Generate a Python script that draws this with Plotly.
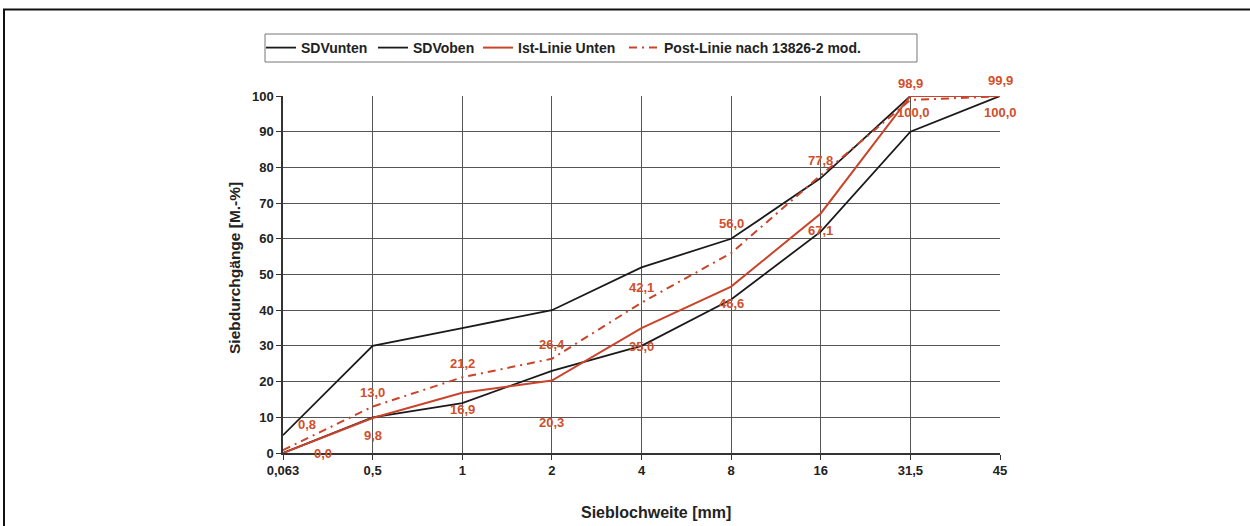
import plotly.graph_objects as go

# ---- data ----
sieves = ["0,063", "0,5", "1", "2", "4", "8", "16", "31,5", "45"]
sdv_unten = [0, 10, 14, 23, 30, 43, 62, 90, 100]
sdv_oben = [5, 30, 35, 40, 52, 60, 77, 100, 100]
ist_linie = [0.0, 9.8, 16.9, 20.3, 35.0, 46.6, 67.1, 100.0, 100.0]
post_linie = [0.8, 13.0, 21.2, 26.4, 42.1, 56.0, 77.8, 98.9, 99.9]
y_ticks = [0, 10, 20, 30, 40, 50, 60, 70, 80, 90, 100]
series_names = ["SDVunten", "SDVoben", "Ist-Linie Unten", "Post-Linie nach 13826-2 mod."]

# ---- label placement (pixels) ----
ist_dx = [40, 0, 0, 0, 0, 0, 0, 3, 0]
ist_dy = [0, -17, -17, -42, -18, -17, -17, -16, -16]
post_dx = [24, 0, 0, 0, 0, 0, 0, 0, 0]
post_dy = [26, 14, 14, 14, 15, 30, 15, 16, 16]
legend_px = [261, 373, 478, 624]

RED = "#C9442A"
TXT_RED = "#CF4F2C"
BLACK = "#1a1a1a"
FONT = "Liberation Sans, Arial, sans-serif"

L, R, T, B = 283, 250, 96, 73
PW = 1250 - L - R
PH = 526 - T - B


def px_x(p):
    return (p - L) / PW


def px_y(p):
    return (526 - B - p) / PH


def fmt(v):
    return f"{v:.1f}".replace(".", ",")


fig = go.Figure()
styles = [
    dict(color=BLACK, width=1.8),
    dict(color=BLACK, width=1.8),
    dict(color=RED, width=2),
    dict(color=RED, width=2, dash="8px,5px,2px,5px"),
]
values = [sdv_unten, sdv_oben, ist_linie, post_linie]
for k in range(4):
    fig.add_trace(go.Scatter(x=sieves, y=values[k], mode="lines", name=series_names[k],
                             line=styles[k], legend="legend" if k == 0 else f"legend{k + 1}"))

annotations = []
for i in range(len(sieves)):
    annotations.append(dict(x=i, y=ist_linie[i], text=fmt(ist_linie[i]), showarrow=False,
                            xshift=ist_dx[i], yshift=ist_dy[i],
                            font=dict(family=FONT, size=13, color=TXT_RED, weight="bold")))
    annotations.append(dict(x=i, y=post_linie[i], text=fmt(post_linie[i]), showarrow=False,
                            xshift=post_dx[i], yshift=post_dy[i],
                            font=dict(family=FONT, size=13, color=TXT_RED, weight="bold")))

# axis titles
annotations.append(dict(xref="paper", yref="paper", x=px_x(656), y=px_y(512),
                        text="Sieblochweite [mm]", showarrow=False, xanchor="center", yanchor="middle",
                        font=dict(family=FONT, size=16, color="#222", weight="bold")))
annotations.append(dict(xref="paper", yref="paper", x=px_x(234), y=px_y(268),
                        text="Siebdurchgänge [M.-%]", showarrow=False, textangle=-90,
                        xanchor="center", yanchor="middle",
                        font=dict(family=FONT, size=15.5, color="#222", weight="bold")))

shapes = [
    # outer frame: top and left lines
    dict(type="line", xref="paper", yref="paper", x0=px_x(3), x1=px_x(1250),
         y0=px_y(9.5), y1=px_y(9.5), line=dict(color="#111", width=2)),
    dict(type="line", xref="paper", yref="paper", x0=px_x(4), x1=px_x(4),
         y0=px_y(9.5), y1=px_y(530), line=dict(color="#111", width=2)),
    # legend box
    dict(type="rect", xref="paper", yref="paper", x0=px_x(265), x1=px_x(917),
         y0=px_y(62), y1=px_y(34), line=dict(color="#777", width=1), fillcolor="rgba(0,0,0,0)"),
]

legend_common = dict(orientation="h", xanchor="left", yanchor="middle", borderwidth=0,
                     bgcolor="rgba(0,0,0,0)", itemwidth=30,
                     font=dict(family=FONT, size=14, color="#222", weight="bold"))
legends = {}
for k in range(4):
    key = "legend" if k == 0 else f"legend{k + 1}"
    legends[key] = dict(legend_common, x=px_x(legend_px[k]), y=px_y(48))

fig.update_layout(
    width=1250, height=526,
    margin=dict(l=L, r=R, t=T, b=B),
    paper_bgcolor="white", plot_bgcolor="white",
    font=dict(family=FONT, size=12, color="#222"),
    showlegend=True,
    annotations=annotations,
    shapes=shapes,
    xaxis=dict(type="category", categoryorder="array", categoryarray=sieves,
               range=[0, len(sieves) - 1], showgrid=True, gridcolor="#555", gridwidth=1.3,
               showline=True, linecolor="#333", linewidth=1.5, ticks="outside",
               ticklen=5, tickcolor="#333", mirror=False,
               tickfont=dict(family=FONT, size=13, color="#222", weight="bold")),
    yaxis=dict(range=[0, 100], tickvals=y_ticks, showgrid=True, gridcolor="#555",
               gridwidth=1.3, showline=True, linecolor="#333", linewidth=1.5,
               ticks="outside", ticklen=5, tickcolor="#333", zeroline=False,
               tickfont=dict(family=FONT, size=13, color="#222", weight="bold")),
    **legends,
)

fig.write_html("out.html")
